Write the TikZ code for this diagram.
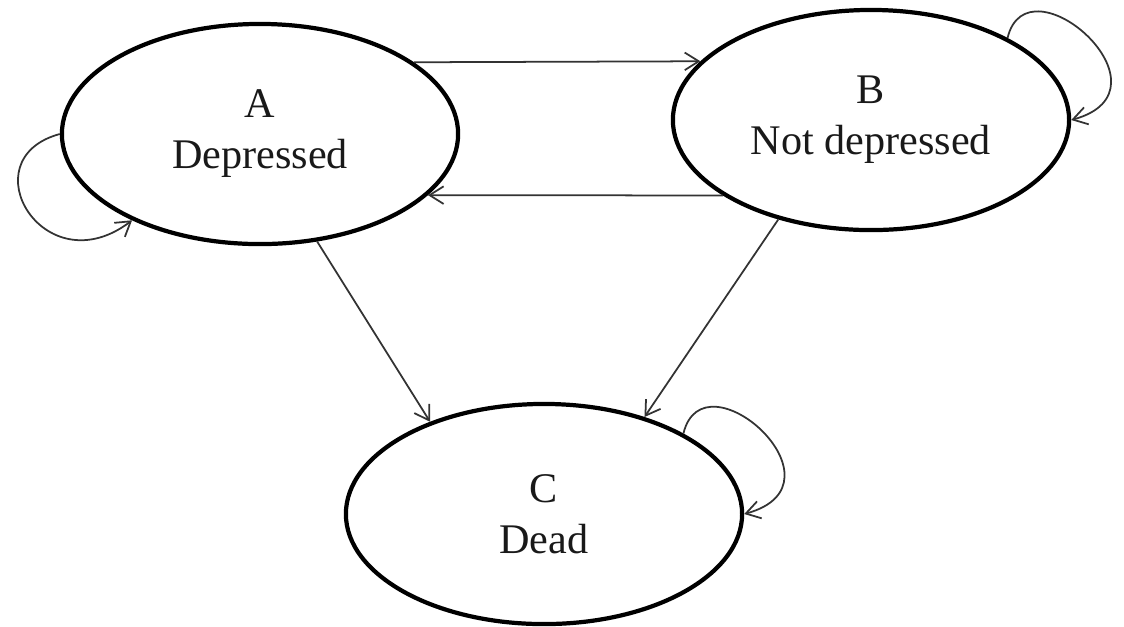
\documentclass[tikz,border=0pt]{standalone}
\usepackage{fontspec}
\setmainfont{Liberation Serif}
\usetikzlibrary{shapes.geometric,arrows.meta}
\begin{document}
\begin{tikzpicture}[x=0.01cm,y=-0.01cm,
  state/.style={ellipse,draw=black,line width=1.2pt,
    minimum width=3.96cm,minimum height=2.2cm,inner sep=0pt,
    align=center,text=black!90,font=\fontsize{12}{14.5}\selectfont},
  link/.style={draw=black!80,line width=0.5pt,
    -{Straight Barb[length=4pt,width=5pt]}}]
\useasboundingbox (0,0) rectangle (1124,626);

% states
\node[state] (A) at (260,134) {A\\Depressed};
\node[state] (B) at (871,120) {B\\Not depressed};
\node[state] (C) at (544,514) {C\\Dead};

% transitions between A and B
\draw[link] (A.25.3) -- (B.161.5);
\draw[link] (B.207.8) -- (A.-20.8);

% transitions into C
\draw[link] (A.-62) -- (C.141);
\draw[link] (B.227) -- (C.44);

% self loops
\draw[link] (A.180) .. controls +(-92,25) and +(-88,67) .. (A.214);
\draw[link] (B.31) .. controls +(20,-83) and +(109,-30) .. (B.0);
\draw[link] (C.30) .. controls +(20,-83) and +(109,-30) .. (C.0);
\end{tikzpicture}
\end{document}
